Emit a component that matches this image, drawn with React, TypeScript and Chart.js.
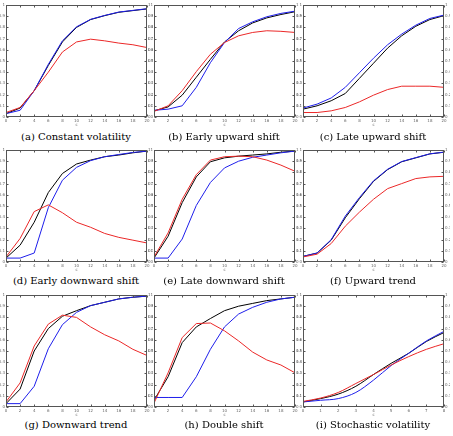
import React, { useEffect, useRef } from "react";
import { Chart, registerables } from "chart.js";
Chart.register(...registerables);

const xs = [0, 2, 4, 6, 8, 10, 12, 14, 16, 18, 20];
const xsI = [0, 1, 2, 3, 4, 5, 6, 7, 8];

const aBlack = [0.03, 0.08, 0.235, 0.46, 0.67, 0.8, 0.87, 0.905, 0.935, 0.95, 0.965];
const aBlue = [0.03, 0.06, 0.235, 0.47, 0.68, 0.805, 0.872, 0.907, 0.937, 0.952, 0.967];
const aRed = [0.04, 0.085, 0.235, 0.4, 0.58, 0.67, 0.695, 0.68, 0.66, 0.645, 0.62];

const bBlack = [0.055, 0.09, 0.195, 0.355, 0.515, 0.67, 0.77, 0.84, 0.885, 0.915, 0.94];
const bBlue = [0.06, 0.07, 0.1, 0.265, 0.485, 0.665, 0.79, 0.85, 0.895, 0.925, 0.945];
const bRed = [0.05, 0.1, 0.235, 0.405, 0.56, 0.665, 0.725, 0.755, 0.77, 0.765, 0.755];

const cBlack = [0.07, 0.1, 0.145, 0.21, 0.345, 0.48, 0.615, 0.725, 0.81, 0.87, 0.905];
const cBlue = [0.08, 0.115, 0.17, 0.265, 0.395, 0.525, 0.645, 0.74, 0.82, 0.88, 0.91];
const cRed = [0.04, 0.04, 0.055, 0.085, 0.135, 0.195, 0.245, 0.275, 0.275, 0.275, 0.265];

const dBlack = [0.035, 0.15, 0.355, 0.62, 0.79, 0.875, 0.91, 0.94, 0.955, 0.975, 0.99];
const dBlue = [0.035, 0.035, 0.08, 0.485, 0.73, 0.845, 0.905, 0.94, 0.96, 0.978, 0.99];
const dRed = [0.045, 0.21, 0.45, 0.51, 0.44, 0.355, 0.31, 0.255, 0.22, 0.195, 0.17];

const eBlack = [0.035, 0.23, 0.53, 0.76, 0.895, 0.93, 0.945, 0.955, 0.965, 0.98, 0.99];
const eBlue = [0.035, 0.035, 0.205, 0.505, 0.71, 0.84, 0.9, 0.935, 0.955, 0.975, 0.99];
const eRed = [0.045, 0.26, 0.56, 0.78, 0.91, 0.94, 0.945, 0.94, 0.91, 0.865, 0.81];

const fBlack = [0.05, 0.08, 0.195, 0.395, 0.565, 0.72, 0.825, 0.895, 0.93, 0.965, 0.98];
const fBlue = [0.05, 0.08, 0.2, 0.41, 0.575, 0.725, 0.828, 0.897, 0.932, 0.966, 0.981];
const fRed = [0.045, 0.07, 0.165, 0.32, 0.445, 0.56, 0.655, 0.7, 0.745, 0.76, 0.765];

const gBlack = [0.03, 0.16, 0.5, 0.7, 0.81, 0.86, 0.905, 0.935, 0.965, 0.98, 0.99];
const gBlue = [0.03, 0.03, 0.185, 0.52, 0.735, 0.845, 0.905, 0.935, 0.965, 0.98, 0.99];
const gRed = [0.045, 0.215, 0.545, 0.74, 0.82, 0.8, 0.715, 0.645, 0.59, 0.515, 0.46];

const hBlack = [0.06, 0.27, 0.575, 0.715, 0.79, 0.86, 0.9, 0.925, 0.95, 0.965, 0.98];
const hBlue = [0.085, 0.085, 0.085, 0.27, 0.515, 0.715, 0.83, 0.89, 0.935, 0.965, 0.98];
const hRed = [0.035, 0.305, 0.62, 0.745, 0.75, 0.68, 0.59, 0.49, 0.42, 0.375, 0.305];

const iBlack = [0.045, 0.075, 0.115, 0.185, 0.29, 0.39, 0.48, 0.585, 0.665];
const iBlue = [0.045, 0.06, 0.075, 0.13, 0.24, 0.37, 0.48, 0.59, 0.675];
const iRed = [0.05, 0.08, 0.13, 0.21, 0.29, 0.375, 0.45, 0.515, 0.565];

const captions = [
  "(a) Constant volatility",
  "(b) Early upward shift",
  "(c) Late upward shift",
  "(d) Early downward shift",
  "(e) Late downward shift",
  "(f) Upward trend",
  "(g) Downward trend",
  "(h) Double shift",
  "(i) Stochastic volatility",
];

const BLACK = "#000000";
const BLUE = "rgb(30,30,235)";
const RED = "rgb(235,40,40)";

type PanelDef = {
  caption: string;
  x: number[];
  black: number[];
  blue: number[];
  red: number[];
  xMax: number;
  step: number;
  smooth: boolean;
};

const panels: PanelDef[] = [
  { caption: captions[0], x: xs, black: aBlack, blue: aBlue, red: aRed, xMax: 20, step: 2, smooth: false },
  { caption: captions[1], x: xs, black: bBlack, blue: bBlue, red: bRed, xMax: 20, step: 2, smooth: false },
  { caption: captions[2], x: xs, black: cBlack, blue: cBlue, red: cRed, xMax: 20, step: 2, smooth: false },
  { caption: captions[3], x: xs, black: dBlack, blue: dBlue, red: dRed, xMax: 20, step: 2, smooth: false },
  { caption: captions[4], x: xs, black: eBlack, blue: eBlue, red: eRed, xMax: 20, step: 2, smooth: false },
  { caption: captions[5], x: xs, black: fBlack, blue: fBlue, red: fRed, xMax: 20, step: 2, smooth: false },
  { caption: captions[6], x: xs, black: gBlack, blue: gBlue, red: gRed, xMax: 20, step: 2, smooth: false },
  { caption: captions[7], x: xs, black: hBlack, blue: hBlue, red: hRed, xMax: 20, step: 2, smooth: false },
  { caption: captions[8], x: xsI, black: iBlack, blue: iBlue, red: iRed, xMax: 8, step: 1, smooth: true },
];

const boxPlugin = {
  id: "boxTicks",
  afterDraw(chart: any) {
    const { ctx, chartArea } = chart;
    const l = Math.round(chartArea.left) + 0.5;
    const r = Math.round(chartArea.right) - 0.5;
    const t = Math.round(chartArea.top) + 0.5;
    const b = Math.round(chartArea.bottom) - 0.5;
    ctx.save();
    ctx.strokeStyle = "#555";
    ctx.lineWidth = 1;
    ctx.strokeRect(l, t, r - l, b - t);
    ctx.beginPath();
    const xs = chart.scales.x;
    xs.ticks.forEach((tk: any) => {
      const px = Math.round(xs.getPixelForValue(tk.value)) + 0.5;
      ctx.moveTo(px, b);
      ctx.lineTo(px, b - 2);
      ctx.moveTo(px, t);
      ctx.lineTo(px, t + 2);
    });
    const ys = chart.scales.y;
    ys.ticks.forEach((tk: any) => {
      const py = Math.round(ys.getPixelForValue(tk.value)) + 0.5;
      ctx.moveTo(l, py);
      ctx.lineTo(l + 2, py);
      ctx.moveTo(r, py);
      ctx.lineTo(r - 2, py);
    });
    ctx.stroke();
    ctx.restore();
  },
};

const fmt = (v: any) => {
  const n = Math.round(Number(v) * 10) / 10;
  return String(n);
};

const CW = 153;
const CH = 127;
const TICK_FONT = { size: 4, family: "'DejaVu Sans', sans-serif" };
const TICK_COLOR = "#666";

function PanelChart({ p, left, top }: { p: PanelDef; left: number; top: number }) {
  const ref = useRef<HTMLCanvasElement>(null);
  useEffect(() => {
    const mk = (ys: number[], color: string) => ({
      data: p.x.map((x, i) => ({ x, y: ys[i] })),
      borderColor: color,
      backgroundColor: color,
      borderWidth: 1,
      pointRadius: 0,
      fill: false,
      tension: p.smooth ? 0.4 : 0,
      cubicInterpolationMode: p.smooth ? "monotone" : "default",
    });
    const yAxis = (pos: string) => ({
      type: "linear",
      position: pos,
      min: 0,
      max: 1,
      display: true,
      ticks: { stepSize: 0.1, font: TICK_FONT, color: TICK_COLOR, padding: 1, callback: fmt, autoSkip: false },
      grid: { display: false, drawTicks: false },
      border: { display: false },
      afterFit: (s: any) => {
        s.width = 6;
      },
    });
    const chart = new Chart(ref.current!, {
      type: "line",
      data: {
        datasets: [mk(p.red, RED), mk(p.blue, BLUE), mk(p.black, BLACK)] as any,
      },
      options: {
        animation: false,
        responsive: false,
        events: [],
        plugins: { legend: { display: false }, tooltip: { enabled: false } },
        layout: { padding: { top: 5, left: 0, right: 0, bottom: 0 } },
        scales: {
          x: {
            type: "linear",
            min: 0,
            max: p.xMax,
            ticks: { stepSize: p.step, font: TICK_FONT, color: TICK_COLOR, padding: 2, maxRotation: 0, autoSkip: false },
            grid: { display: false, drawTicks: false },
            border: { display: false },
            title: { display: true, text: "c", font: TICK_FONT, color: TICK_COLOR, padding: 0 },
            afterFit: (s: any) => {
              s.height = 10;
            },
          },
          y: yAxis("left"),
          y2: yAxis("right"),
        } as any,
      },
      plugins: [boxPlugin],
    });
    return () => chart.destroy();
  }, []);
  return (
    <canvas
      ref={ref}
      width={CW}
      height={CH}
      style={{ position: "absolute", left, top, width: CW, height: CH }}
    />
  );
}

const colLeft = [6, 154, 303];
const rowTop = [5, 150, 295];
const capTop = [129, 273, 417];

export default function App() {
  return (
    <div style={{ position: "absolute", left: 0, top: 0, width: 453, height: 436, background: "#fff", overflow: "hidden" }}>
      {panels.map((p, i) => {
        const c = i % 3;
        const r = Math.floor(i / 3);
        return (
          <React.Fragment key={i}>
            <PanelChart p={p} left={colLeft[c] - 6} top={rowTop[r] - 5} />
            <div
              style={{
                position: "absolute",
                left: colLeft[c] + 70 - 75,
                top: capTop[r],
                width: 150,
                textAlign: "center",
                fontFamily: "'DejaVu Serif', 'Liberation Serif', serif",
                fontSize: 10,
                lineHeight: "16px",
                color: "#000",
                whiteSpace: "nowrap",
              }}
            >
              {p.caption}
            </div>
          </React.Fragment>
        );
      })}
    </div>
  );
}
